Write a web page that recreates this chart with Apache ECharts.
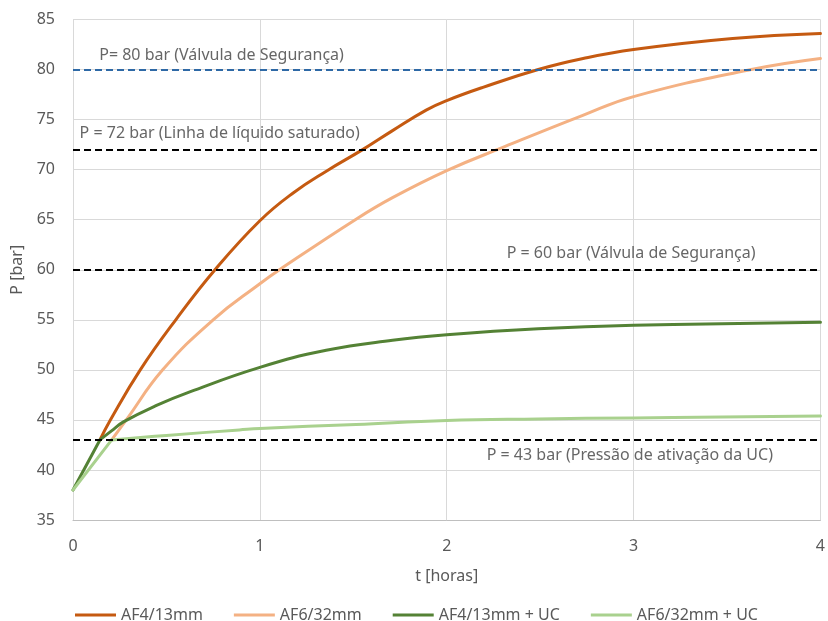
<!DOCTYPE html>
<html>
<head>
<meta charset="utf-8">
<script src="https://cdn.jsdelivr.net/npm/echarts@6/dist/echarts.min.js"></script>
<style>
  html, body { margin: 0; padding: 0; background: #ffffff; }
  #chart { width: 828px; height: 621px; }
</style>
</head>
<body>
<div id="chart"></div>
<script>
// Pressure build-up in the vessel for each configuration (t in hours, P in bar)
const seriesNames = ['AF4/13mm', 'AF6/32mm', 'AF4/13mm + UC', 'AF6/32mm + UC'];

// Common straight rise from 38 bar up to the 43 bar activation point
const riseAF4Time = [0, 0.144];
const riseAF4Pressure = [38, 43];
const riseAF6Time = [0, 0.207];
const riseAF6Pressure = [38, 43];

const af4Time = [0.144, 0.2, 0.36, 0.55, 0.76, 1.0, 1.18, 1.36, 1.55, 1.71, 1.89, 2.0, 2.19, 2.49, 2.73, 3.0, 3.53, 4.0];
const af4Pressure = [43, 45, 50, 55, 60, 64.9, 67.7, 69.9, 72, 73.9, 75.95, 76.9, 78.2, 80.0, 81.1, 82.0, 83.1, 83.6];

const af6Time = [0.207, 0.285, 0.48, 0.75, 1.0, 1.105, 1.515, 1.71, 2.0, 2.31, 2.725, 3.0, 3.63, 4.0];
const af6Pressure = [43, 45, 50, 55, 58.6, 60, 65.05, 67.2, 69.9, 72.3, 75.4, 77.3, 80.0, 81.1];

const af4UcTime = [0.144, 0.206, 0.27, 0.447, 0.625, 1.0, 1.355, 1.71, 2.0, 2.49, 3.0, 4.0];
const af4UcPressure = [43, 43.9, 44.8, 46.45, 47.8, 50.25, 51.95, 52.95, 53.5, 54.1, 54.45, 54.75];

const af6UcTime = [0.207, 0.5, 0.89, 1.0, 1.515, 2.0, 2.49, 3.0, 4.0];
const af6UcPressure = [43, 43.45, 44.0, 44.15, 44.55, 44.95, 45.1, 45.2, 45.4];

// Reference pressure levels and their captions
const refPressures = [80, 72, 60, 43];
const refLabels = [
  'P= 80 bar (Válvula de Segurança)',
  'P = 72 bar (Linha de líquido saturado)',
  'P = 60 bar (Válvula de Segurança)',
  'P = 43 bar (Pressão de ativação da UC)'
];

// Axis ticks
const xTicks = [0, 1, 2, 3, 4];
const yTicks = [35, 40, 45, 50, 55, 60, 65, 70, 75, 80, 85];

// ---- styling ----
const colors = ['#C55A11', '#F4B183', '#548235', '#A9D18E'];
const refColors = ['#2E69A6', '#000000', '#000000', '#000000'];
// caption anchor in axis units (time, pressure)
const captionAnchors = [[0.795, 81.4], [0.785, 73.6], [2.987, 61.6], [2.98, 41.45]];
const textColor = '#595959';
const captionColor = '#404040';
const fontFamily = '"Noto Sans", "DejaVu Sans", sans-serif';

const zip = (xs, ys) => xs.map((x, i) => [x, ys[i]]);

function curve(name, color, xs, ys, smooth) {
  return {
    type: 'line',
    name: name,
    data: zip(xs, ys),
    smooth: smooth ? 0.45 : false,
    showSymbol: false,
    symbol: 'none',
    lineStyle: { color: color, width: 3, cap: 'round', join: 'round' },
    itemStyle: { color: color },
    z: 3
  };
}

const refSeries = {
  type: 'line',
  name: 'ref',
  data: [],
  silent: true,
  z: 2,
  markLine: {
    silent: true,
    symbol: ['none', 'none'],
    label: { show: false },
    animation: false,
    data: refPressures.map((p, i) => ({
      yAxis: p,
      lineStyle: { color: refColors[i], width: 2, type: [7, 4] }
    }))
  }
};

const captionSeries = {
  type: 'scatter',
  name: 'captions',
  silent: true,
  symbolSize: 0,
  z: 4,
  data: refLabels.map((t, i) => ({ value: captionAnchors[i], caption: t })),
  label: {
    show: true,
    position: 'inside',
    formatter: p => p.data.caption,
    color: captionColor,
    fontFamily: fontFamily,
    fontSize: 16
  }
};

const option = {
  animation: false,
  backgroundColor: '#ffffff',
  grid: { left: 73, right: 6, top: 19.5, bottom: 101, containLabel: false },
  xAxis: {
    type: 'value',
    min: xTicks[0],
    max: xTicks[xTicks.length - 1],
    interval: 1,
    name: 't [horas]',
    nameLocation: 'middle',
    nameGap: 48,
    nameTextStyle: { color: textColor, fontFamily: fontFamily, fontSize: 16 },
    axisLine: { show: true, lineStyle: { color: '#BFBFBF', width: 1 } },
    axisTick: { show: false },
    axisLabel: { color: textColor, fontFamily: fontFamily, fontSize: 16, margin: 18 },
    splitLine: { show: true, lineStyle: { color: '#D9D9D9', width: 1 } }
  },
  yAxis: {
    type: 'value',
    min: yTicks[0],
    max: yTicks[yTicks.length - 1],
    interval: 5,
    name: 'P [bar]',
    nameLocation: 'middle',
    nameGap: 46,
    nameRotate: 90,
    nameTextStyle: { color: textColor, fontFamily: fontFamily, fontSize: 16 },
    axisLine: { show: false },
    axisTick: { show: false },
    axisLabel: { color: textColor, fontFamily: fontFamily, fontSize: 16, margin: 18 },
    splitLine: { show: true, lineStyle: { color: '#D9D9D9', width: 1 } }
  },
  legend: {
    data: seriesNames,
    left: 70,
    top: 602,
    icon: 'rect',
    itemWidth: 41,
    itemHeight: 3,
    itemGap: 31,
    textStyle: { color: textColor, fontFamily: fontFamily, fontSize: 16 }
  },
  series: [
    refSeries,
    curve(seriesNames[0], colors[0], af4Time, af4Pressure, true),
    curve(seriesNames[1], colors[1], af6Time, af6Pressure, true),
    curve(seriesNames[2], colors[2], af4UcTime, af4UcPressure, true),
    curve(seriesNames[3], colors[3], af6UcTime, af6UcPressure, true),
    curve(seriesNames[2], colors[2], riseAF4Time, riseAF4Pressure, false),
    curve(seriesNames[3], colors[3], riseAF6Time, riseAF6Pressure, false),
    captionSeries
  ]
};

const chart = echarts.init(document.getElementById('chart'), null, { renderer: 'canvas' });
chart.setOption(option);
</script>
</body>
</html>
